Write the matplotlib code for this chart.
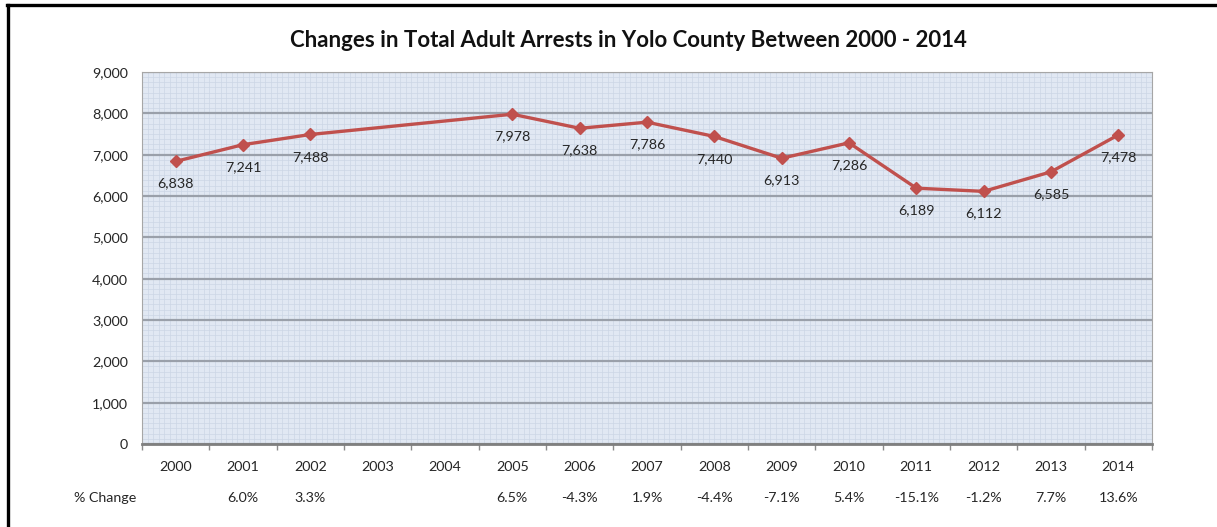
import matplotlib.pyplot as plt
import numpy as np
from matplotlib.lines import Line2D
from matplotlib.ticker import FuncFormatter, MultipleLocator

plt.rcParams["font.family"] = ["Lato", "DejaVu Sans"]

years = ["2000", "2001", "2002", "2003", "2004", "2005", "2006", "2007",
         "2008", "2009", "2010", "2011", "2012", "2013", "2014"]
# no figures were reported for 2003 and 2004
arrests = [6838, 7241, 7488, None, None, 7978, 7638, 7786,
           7440, 6913, 7286, 6189, 6112, 6585, 7478]
pct_change = ["", "6.0%", "3.3%", "", "", "6.5%", "-4.3%", "1.9%",
              "-4.4%", "-7.1%", "5.4%", "-15.1%", "-1.2%", "7.7%", "13.6%"]

LINE_RED = "#c0504d"

fig = plt.figure(figsize=(12.17, 5.27), dpi=100)
ax = fig.add_axes([0.1167, 0.1575, 0.8299, 0.7059])
ax.set_facecolor("#e1e8f3")

xs = [i for i, v in enumerate(arrests) if v is not None]
ys = [v for v in arrests if v is not None]
ax.plot(xs, ys, color=LINE_RED, linewidth=2.4, marker="D", markersize=6,
        markerfacecolor=LINE_RED, markeredgecolor=LINE_RED, zorder=4)
for x, y in zip(xs, ys):
    ax.annotate(f"{y:,}", (x, y), xytext=(0, -16), textcoords="offset points",
                ha="center", va="center", fontsize=10.3, color="#262626", zorder=5)

ax.set_xlim(-0.5, len(years) - 0.5)
ax.set_ylim(0, 9000)

# category ticks sit on the boundaries, labels at the centres
ax.set_xticks(np.arange(len(years) + 1) - 0.5)
ax.set_xticklabels([])
ax.set_xticks(np.arange(len(years)), minor=True)
ax.set_xticklabels(years, minor=True)
ax.tick_params(axis="x", which="major", length=4, color="#8c8c8c", width=1)
ax.tick_params(axis="x", which="minor", length=0, pad=12, labelsize=10.3,
               labelcolor="#262626")

ax.yaxis.set_major_locator(MultipleLocator(1000))
ax.yaxis.set_major_formatter(FuncFormatter(lambda v, _: f"{int(v):,}"))
ax.tick_params(axis="y", length=0, pad=10, labelsize=10.3, labelcolor="#262626")

# fine graph-paper pattern behind the main gridlines
for xv in np.arange(-0.5, len(years) - 0.5, 1 / 12):
    ax.axvline(xv, color="#ccd6e5", linewidth=0.5, zorder=0)
for yv in np.arange(0, 9000, 125):
    ax.axhline(yv, color="#ccd6e5", linewidth=0.5, zorder=0)
ax.grid(axis="y", which="major", color="#9aa0aa", linewidth=1.6, zorder=1)
ax.set_axisbelow(True)

for side in ("top", "right", "left"):
    ax.spines[side].set_color("#a6a6a6")
    ax.spines[side].set_linewidth(0.8)
ax.spines["bottom"].set_color("#7f7f7f")
ax.spines["bottom"].set_linewidth(2)

# percent change row under the year labels
row = ax.get_xaxis_transform()
ax.text(-1.05, -0.145, "% Change", transform=row, ha="center", va="center",
        fontsize=10.3, color="#262626")
for i, txt in enumerate(pct_change):
    ax.text(i, -0.145, txt, transform=row, ha="center", va="center",
            fontsize=10.3, color="#262626")

fig.text(0.516, 0.924, "Changes in Total Adult Arrests in Yolo County Between 2000 - 2014",
         ha="center", va="center", fontsize=16, fontweight="bold", color="#111111")

# page frame, only top and left edges show
fig.add_artist(Line2D([7 / 1217, 1], [1 - 4.5 / 527] * 2, transform=fig.transFigure,
                      color="black", linewidth=2.4))
fig.add_artist(Line2D([8 / 1217] * 2, [0, 1 - 4.5 / 527], transform=fig.transFigure,
                      color="black", linewidth=2.4))

fig.savefig("out.png", dpi=100)
